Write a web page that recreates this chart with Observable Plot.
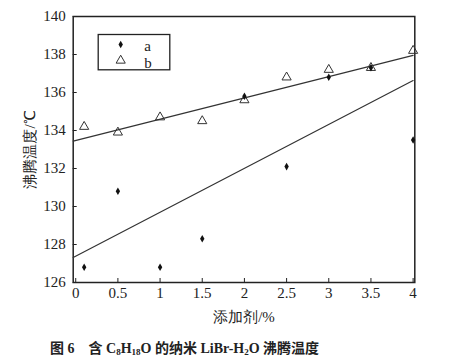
<!DOCTYPE html>
<html>
<head>
<meta charset="utf-8">
<script src="https://cdn.jsdelivr.net/npm/d3@7"></script>
<script src="https://cdn.jsdelivr.net/npm/@observablehq/plot@0.6"></script>
<style>
  html, body { margin: 0; padding: 0; background: #fff; }
  #wrap { position: relative; width: 465px; height: 364px; }
  #caption {
    position: absolute; left: 50px; top: 340px; line-height: 18px;
    font-family: "Liberation Serif", "Noto Sans CJK SC", serif;
    font-weight: bold; font-size: 14px; color: #222; white-space: pre;
  }
  #caption sub { font-size: 9px; vertical-align: -2px; line-height: 0; }
</style>
</head>
<body>
<div id="wrap"><div id="chart"></div>
<div id="caption">图 6　含 C<sub>8</sub>H<sub>18</sub>O 的纳米 LiBr-H<sub>2</sub>O 沸腾温度</div></div>
<script>
// additive content (%)
const additive = [0.1, 0.5, 1, 1.5, 2, 2.5, 3, 3.5, 4];
// series a (filled diamonds), boiling temperature °C
const seriesA = [126.8, 130.8, 126.8, 128.3, 135.8, 132.1, 136.8, 137.3, 133.5];
// series b (open triangles)
const seriesB = [134.2, 133.9, 134.7, 134.5, 135.6, 136.8, 137.2, 137.3, 138.2];
// fitted lines, endpoints
const fitX = [-0.03, 4.0];
const fitA = [127.32, 136.63];
const fitB = [133.44, 137.95];
const xTicks = [0, 0.5, 1, 1.5, 2, 2.5, 3, 3.5, 4];
const xTickLabels = ["0", "0.5", "1", "1.5", "2", "2.5", "3", "3.5", "4"];
const yTicks = [126, 128, 130, 132, 134, 136, 138, 140];
const legendLabels = ["a", "b"];

const ptsA = additive.map((x, i) => ({x, y: seriesA[i]}));
const ptsB = additive.map((x, i) => ({x, y: seriesB[i]}));
const lineA = fitX.map((x, i) => ({x, y: fitA[i]}));
const lineB = fitX.map((x, i) => ({x, y: fitB[i]}));

const ink = "#222";
const chart = Plot.plot({
  width: 465,
  height: 325,
  marginLeft: 72.7,
  marginRight: 50.7,
  marginTop: 16,
  marginBottom: 43,
  style: {fontFamily: "Liberation Serif, serif", fontSize: "15px", color: ink, background: "#fff"},
  x: {domain: [-0.03, 4.02]},
  y: {domain: [126, 140]},
  marks: [
    Plot.frame({stroke: ink, strokeWidth: 1.5}),
    Plot.axisX({ticks: xTicks, tickSize: -4, tickFormat: (d, i) => xTickLabels[i], tickPadding: 9,
      label: "添加剂/%", labelAnchor: "center", labelArrow: "none", labelOffset: 39,
      fontSize: 15}),
    Plot.axisY({ticks: yTicks, tickSize: -4, tickPadding: 11.5,
      label: "沸腾温度/℃", labelAnchor: "center", labelArrow: "none", labelOffset: 49,
      fontSize: 15}),
    Plot.line(lineB, {x: "x", y: "y", stroke: "#333", strokeWidth: 1.2}),
    Plot.line(lineA, {x: "x", y: "y", stroke: "#333", strokeWidth: 1.2}),
    Plot.dot(ptsB, {x: "x", y: "y", symbol: "triangle", r: 3.4, stroke: "#333", strokeWidth: 1, fill: "none"}),
    Plot.dot(ptsA, {x: "x", y: "y", symbol: "diamond", r: 2.3, fill: "#111", stroke: "none"}),
    // legend box
    Plot.frame({stroke: ink, strokeWidth: 1.3, insetLeft: 25, insetTop: 18, insetRight: 245, insetBottom: 212.7}),
    Plot.dot([legendLabels[0]], {frameAnchor: "top-left", dx: 47.5, dy: 28, symbol: "diamond", r: 2.3, fill: "#111", stroke: "none"}),
    Plot.dot([legendLabels[1]], {frameAnchor: "top-left", dx: 47.5, dy: 44, symbol: "triangle", r: 3.4, stroke: "#333", strokeWidth: 1, fill: "none"}),
    Plot.text([legendLabels[0]], {frameAnchor: "top-left", dx: 71, dy: 24, text: d => d, textAnchor: "start", fontSize: 15, fill: ink}),
    Plot.text([legendLabels[1]], {frameAnchor: "top-left", dx: 71, dy: 41, text: d => d, textAnchor: "start", fontSize: 15, fill: ink})
  ]
});
document.getElementById("chart").appendChild(chart);
</script>
</body>
</html>
